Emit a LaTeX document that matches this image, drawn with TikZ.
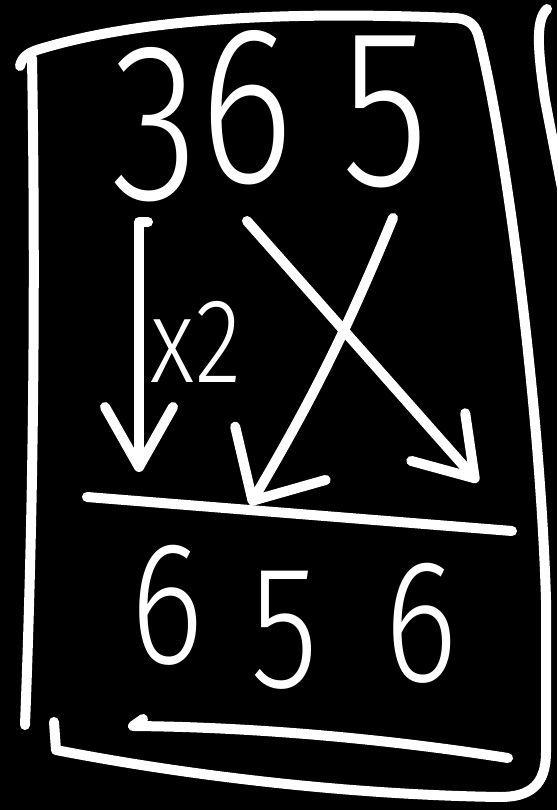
\documentclass[tikz,border=0pt]{standalone}
\usepackage{fontspec}
\usepackage{xcolor}
\usetikzlibrary{arrows.meta}
\newfontfamily\handfont{Fira Sans}[UprightFont=* Light,FakeStretch=0.8]
\definecolor{board}{HTML}{000000}
\definecolor{chalk}{HTML}{FFFFFF}
\tikzset{
  chalkline/.style={draw=chalk,line width=10pt,line cap=round,line join=round},
  bigdigit/.style={text=chalk,inner sep=0pt,font=\handfont\fontsize{225}{225}\selectfont},
  lowdigit/.style={text=chalk,inner sep=0pt,font=\handfont\fontsize{175}{175}\selectfont},
  barb/.style n args={2}{-{Straight Barb[round,length=#1,width=#2]}},
}

\begin{document}
\begin{tikzpicture}[x=1pt,y=-1pt]
    \useasboundingbox (0,0) rectangle (557,810);
    \fill[board] (0,0) rectangle (557,810);
    \clip (0,0) rectangle (557,810);
    % frame
    \draw[chalkline] (20,66) .. controls (22,56) and (30,52) .. (40,49)
      .. controls (130,22) and (260,10) .. (455,18)
      .. controls (470,19) and (476,26) .. (479,38)
      .. controls (505,140) and (540,400) .. (546,600)
      -- (546,752)
      .. controls (546,785) and (530,797) .. (500,797)
      .. controls (360,795) and (200,778) .. (56,750)
      -- (54,722);
    \draw[chalkline] (32,58) .. controls (36,300) and (33,520) .. (25,725);
    \draw[chalkline] (547,9) .. controls (536,20) and (537,45) .. (545,100) -- (572,240);
    % digits
    \node[bigdigit] (top1) at (155,125) {3};
    \node[bigdigit] (top2) at (247,108) {6};
    \node[bigdigit] (top3) at (385,112) {5};
    \node[lowdigit] (bot1) at (167,605) {6};
    \node[lowdigit] (bot2) at (285,630) {5};
    \node[lowdigit] (bot3) at (421,623) {6};
    \node[text=chalk,inner sep=0pt,font=\handfont\fontsize{120}{120}\selectfont] (times) at (196,342) {x2};
    % rules
    \coordinate (ruleL) at (87,497);
    \coordinate (ruleR) at (512,531);
    \draw[chalkline] (ruleL) -- (ruleR);
    \coordinate (lineL) at (133,726);
    \coordinate (lineR) at (508,758);
    \draw[chalkline] ([shift={(10,-7)}]lineL) -- (lineL) .. controls (250,727) and (380,738) .. (lineR);
    % arrows
    \coordinate (x2from) at (139,222);
    \coordinate (x2to) at (139,472);
    \draw[chalkline,barb={60pt}{68pt}] ([xshift=9pt]x2from) -- (x2from) -- (x2to);
    \coordinate (crossAfrom) at (247,221);
    \coordinate (crossAto) at (478,482);
    \draw[chalkline,barb={55pt}{72pt}] (crossAfrom) -- (crossAto);
    \coordinate (crossBfrom) at (393,218);
    \coordinate (crossBto) at (250,505);
    \draw[chalkline,barb={55pt}{105pt}] (crossBfrom) to[bend left=4] (crossBto);
\end{tikzpicture}
\end{document}
